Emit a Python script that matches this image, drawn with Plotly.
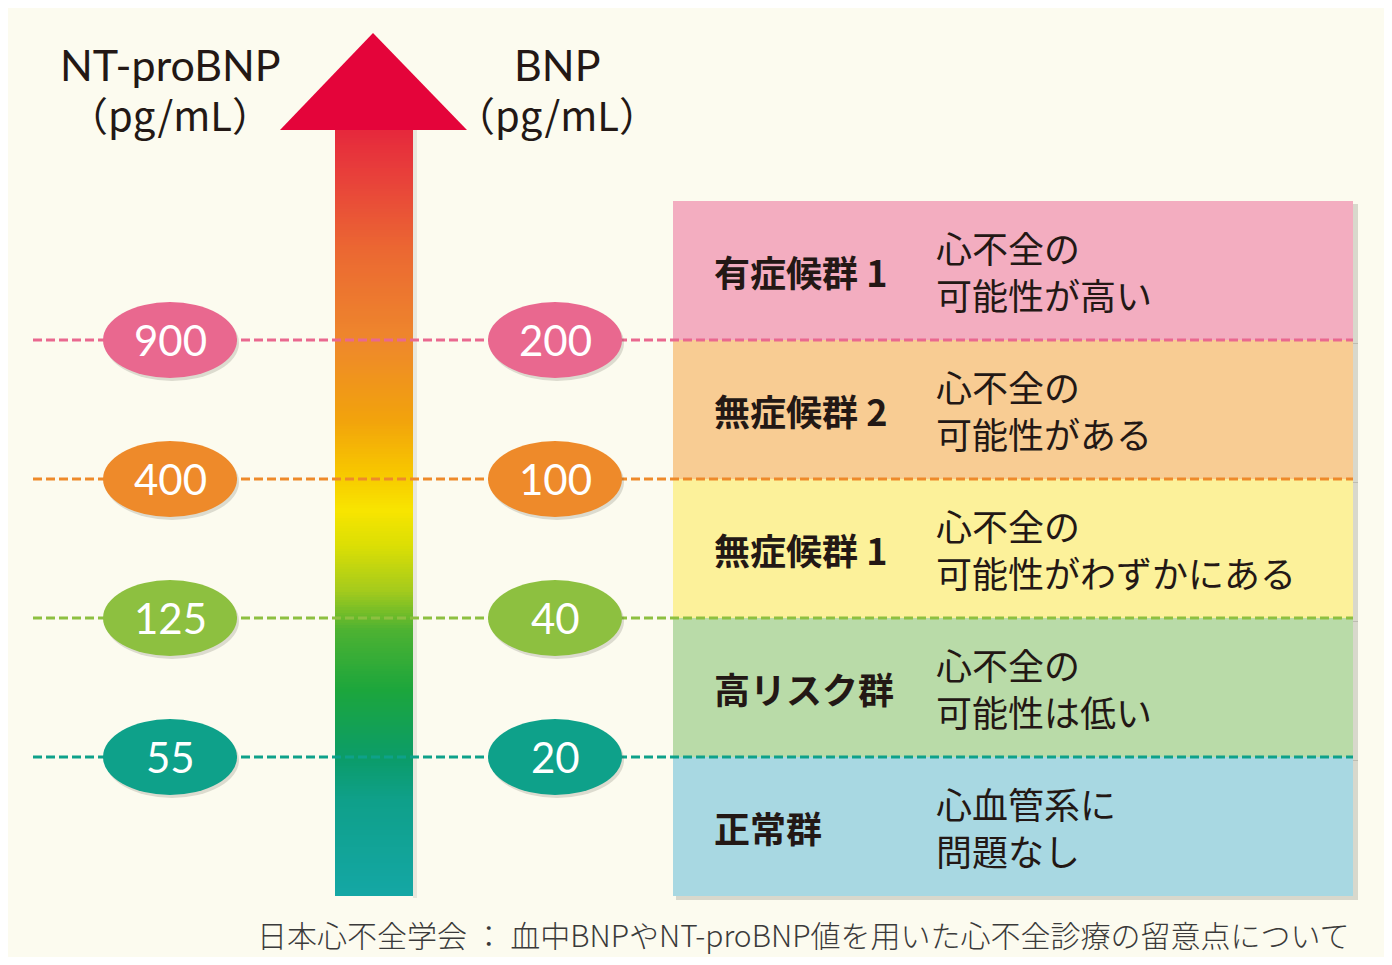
import numpy as np
import plotly.graph_objects as go

# ---------------- data ----------------
nt_probnp = ["900", "400", "125", "55"]          # thresholds, top -> bottom
bnp = ["200", "100", "40", "20"]
threshold_colors = ["#E9688F", "#EE8A2A", "#8DC040", "#0EA18A"]

groups = ["有症候群 1", "無症候群 2", "無症候群 1", "高リスク群", "正常群"]
desc_line1 = ["心不全の", "心不全の", "心不全の", "心不全の", "心血管系に"]
desc_line2 = ["可能性が高い", "可能性がある", "可能性がわずかにある", "可能性は低い", "問題なし"]
band_colors = ["#F3ADC0", "#F8CC93", "#FCF19A", "#B9DBA8", "#A8D8E2"]

header_left = ["NT-proBNP", "（pg/mL）"]
header_right = ["BNP", "（pg/mL）"]
source = "日本心不全学会 ： 血中BNPやNT-proBNP値を用いた心不全診療の留意点について"

# arrow gradient (fraction of shaft height from bottom, colour)
grad_pos = [0.0, 0.125, 0.178, 0.269, 0.347, 0.399, 0.458, 0.504, 0.556, 0.621, 0.726, 0.843, 0.935, 1.0]
grad_col = ["#14A7A5", "#0FA08A", "#0B9C6A", "#1CA63C", "#4DB232", "#A5CB1C", "#DCDF04",
            "#F8E500", "#F7C500", "#F2A30C", "#EE872C", "#EB6832", "#E8423A", "#E6283C"]

# ---------------- layout helpers ----------------
PAGE_MARGIN = 8                      # default body margin of the html page
W, H = 1392 - 2 * PAGE_MARGIN, 965 - 2 * PAGE_MARGIN
BAND_PX = 139.0
BASE_PX = 896.0                      # page row of band 0 (bottom of boxes)


def py(p):
    """page pixel row -> y-axis value (band units)"""
    return (BASE_PX - p) / BAND_PX


n_bands = len(groups)
FONT_JP = "Noto Sans CJK JP"
FONT_LAT = "Lato, Noto Sans CJK JP"
TXT = "#231815"

fig = go.Figure()

# gradient shaft of the arrow
shaft_top = py(130)
ny = 300
y_edges = np.linspace(0, shaft_top, ny + 1)
z = ((y_edges[:-1] + y_edges[1:]) / 2 / shaft_top).reshape(-1, 1)
fig.add_trace(go.Heatmap(
    x=[335, 413], y=y_edges, z=z, zmin=0, zmax=1,
    colorscale=[[p, c] for p, c in zip(grad_pos, grad_col)],
    showscale=False, hoverinfo="skip"))

shapes = []
# arrow shadow + head
shapes.append(dict(type="rect", x0=413, x1=417, y0=0 - 2 / BAND_PX, y1=shaft_top,
                   fillcolor="rgba(0,0,0,0.08)", line_width=0, layer="below"))
shapes.append(dict(type="path",
                   path=f"M 280 {py(130)} L 373 {py(33)} L 467 {py(130)} Z",
                   fillcolor="#E4043A", line_width=0, layer="above"))

# risk boxes (band i from top)
for i, col in enumerate(band_colors):
    top = n_bands - i
    bot = top - 1
    shapes.append(dict(type="rect", x0=676, x1=1358, y0=bot - 4 / BAND_PX, y1=top - 3 / BAND_PX,
                       fillcolor="rgba(90,90,80,0.22)", line_width=0, layer="above"))
for i, col in enumerate(band_colors):
    top = n_bands - i
    bot = top - 1
    shapes.append(dict(type="rect", x0=673, x1=1353, y0=bot, y1=top,
                       fillcolor=col, line_width=0, layer="above"))

# dashed threshold lines
for j, col in enumerate(threshold_colors):
    lvl = n_bands - 1 - j
    shapes.append(dict(type="line", x0=33, x1=1353, y0=lvl, y1=lvl,
                       line=dict(color=col, width=3, dash="9px,4px"), layer="above"))

# ellipses
rx, ry = 67, 38.0 / BAND_PX
for j, col in enumerate(threshold_colors):
    lvl = n_bands - 1 - j
    for cx in (170, 555):
        shapes.append(dict(type="circle", x0=cx - rx + 2, x1=cx + rx + 2,
                           y0=lvl - ry - 3 / BAND_PX, y1=lvl + ry - 3 / BAND_PX,
                           fillcolor="rgba(80,80,60,0.18)", line_width=0, layer="above"))
        shapes.append(dict(type="circle", x0=cx - rx, x1=cx + rx, y0=lvl - ry, y1=lvl + ry,
                           fillcolor=col, line_width=0, layer="above"))

annotations = []
# ellipse values
for j in range(len(threshold_colors)):
    lvl = n_bands - 1 - j
    for cx, txt in ((170, nt_probnp[j]), (555, bnp[j])):
        annotations.append(dict(x=cx, y=lvl, text=txt, showarrow=False,
                                font=dict(family=FONT_LAT, size=42, color="white"),
                                xanchor="center", yanchor="middle"))

# group labels & descriptions
for i in range(n_bands):
    c = n_bands - i - 0.5
    annotations.append(dict(x=712, y=c, text=groups[i], showarrow=False,
                            xanchor="left", yanchor="middle",
                            font=dict(family=FONT_JP, size=36, color=TXT, weight=700)))
    annotations.append(dict(x=934, y=c, text=desc_line1[i] + "<br>" + desc_line2[i],
                            showarrow=False, xanchor="left", yanchor="middle", align="left",
                            font=dict(family=FONT_JP, size=36, color=TXT)))

# headers
for cx, lines in ((170, header_left), (557, header_right)):
    annotations.append(dict(x=cx, y=py(64), text=lines[0], showarrow=False,
                            xanchor="center", yanchor="middle",
                            font=dict(family=FONT_LAT, size=43, color=TXT)))
    annotations.append(dict(x=cx, y=py(114), text=lines[1], showarrow=False,
                            xanchor="center", yanchor="middle",
                            font=dict(family=FONT_JP, size=40, color=TXT)))

# source
annotations.append(dict(x=1352, y=py(934), text=source, showarrow=False,
                        xanchor="right", yanchor="middle",
                        font=dict(family=FONT_JP, size=30, color="#3A3A3A", weight=300)))

fig.update_layout(
    width=W, height=H, margin=dict(l=0, r=0, t=0, b=0),
    paper_bgcolor="#FCFBEF", plot_bgcolor="#FCFBEF",
    xaxis=dict(range=[PAGE_MARGIN, PAGE_MARGIN + W], visible=False, fixedrange=True),
    yaxis=dict(range=[py(PAGE_MARGIN + H), py(PAGE_MARGIN)], visible=False, fixedrange=True),
    shapes=shapes, annotations=annotations, showlegend=False,
)

fig.write_html("out.html")
